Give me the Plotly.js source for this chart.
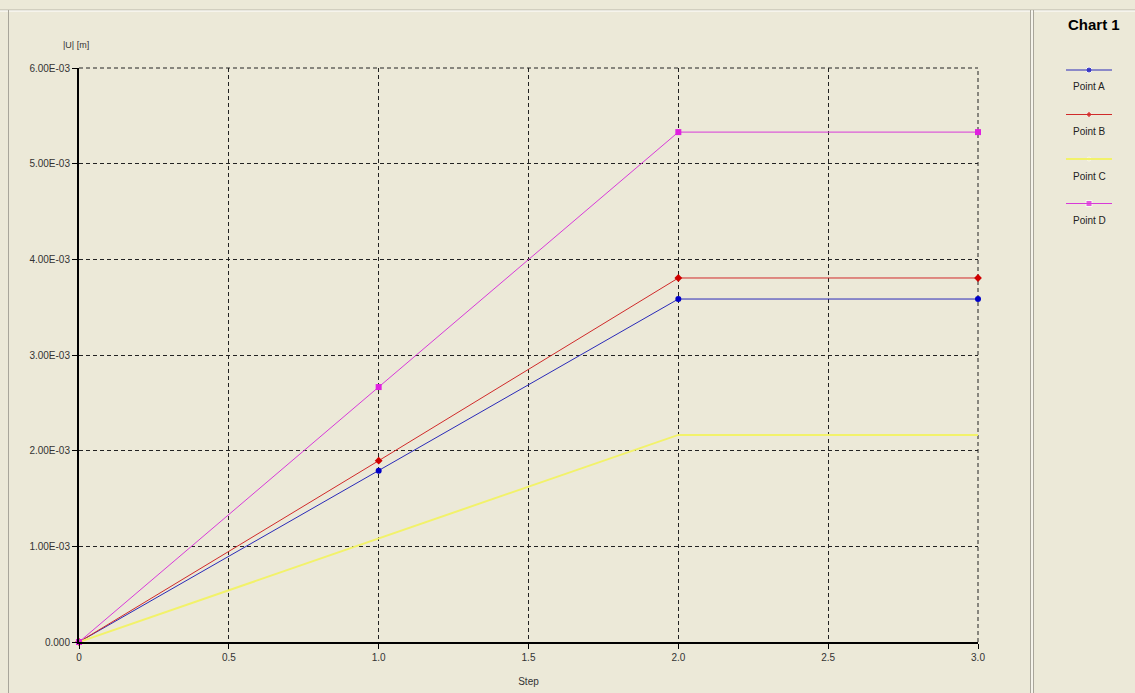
<!DOCTYPE html>
<html><head><meta charset="utf-8">
<script src="https://cdn.plot.ly/plotly-3.0.1.min.js"></script>
<style>html,body{margin:0;padding:0;background:#ECE9D8;}#c{width:1135px;height:693px;}</style>
</head><body><div id="c"></div>
<script>
const steps = [0, 1, 2, 3];
const pointA = [0, 1.79e-3, 3.585e-3, 3.585e-3];
const pointB = [0, 1.895e-3, 3.805e-3, 3.805e-3];
const pointC = [0, 1.08e-3, 2.165e-3, 2.165e-3];
const pointD = [0, 2.665e-3, 5.33e-3, 5.33e-3];
const seriesNames = ['Point A', 'Point B', 'Point C', 'Point D'];
const lineColors = ['#2a2ab8', '#d02a2a', '#f2f26a', '#d83ad8'];
const markerColors = ['#0000c8', '#d00000', '#f2f26a', '#e020e0'];
const markerSymbols = ['circle', 'diamond', 'circle', 'square'];
const lineWidths = [1, 1, 2, 1];
const markerSizes = [6, 6, 0, 6];
const yTickVals = [0, 1e-3, 2e-3, 3e-3, 4e-3, 5e-3, 6e-3];
const yTickText = ['0.000', '1.00E-03', '2.00E-03', '3.00E-03', '4.00E-03', '5.00E-03', '6.00E-03'];
const xTickVals = [0, 0.5, 1, 1.5, 2, 2.5, 3];
const xTickText = ['0', '0.5', '1.0', '1.5', '2.0', '2.5', '3.0'];

const W = 1135, H = 693;
const allY = [pointA, pointB, pointC, pointD];
const font = {family: 'Liberation Sans, Arial, sans-serif', size: 10, color: '#333'};
const gridDash = '4px,3px';

const traces = allY.map((ys, i) => ({
  x: steps, y: ys, type: 'scatter', mode: markerSizes[i] ? 'lines+markers' : 'lines',
  name: seriesNames[i], showlegend: false,
  line: {color: lineColors[i], width: lineWidths[i]},
  marker: {color: markerColors[i], symbol: markerSymbols[i], size: markerSizes[i] || 1},
  cliponaxis: false
}));

// legend samples on a separate axis placed over the legend panel only
const legX0 = 1066, legX1 = 1112, legY0 = 70, legDY = 44.5;
const shapes = [];
const annotations = [];
seriesNames.forEach((n, i) => {
  const yl = legY0 + i * legDY;
  shapes.push({type: 'line', xref: 'paper', yref: 'paper', x0: legX0 / W, x1: legX1 / W,
    y0: 1 - yl / H, y1: 1 - yl / H, line: {color: lineColors[i], width: i === 2 ? 2 : 1}});
  annotations.push({xref: 'paper', yref: 'paper', x: 1089 / W, y: 1 - (yl + 17) / H, text: n,
    showarrow: false, font: {family: font.family, size: 10, color: '#222'}, xanchor: 'center', yanchor: 'middle'});
});
traces.push({
  x: seriesNames.map(() => 1089), y: seriesNames.map((n, i) => legY0 + i * legDY),
  xaxis: 'x2', yaxis: 'y2', type: 'scatter', mode: 'markers', showlegend: false, hoverinfo: 'skip',
  marker: {color: markerColors, symbol: markerSymbols, size: [6, 5, 4, 6]}
});

// edge gridlines (top and right) which plotly omits at range boundaries
shapes.push({type: 'line', xref: 'x domain', yref: 'y domain', x0: 0, x1: 1, y0: 1, y1: 1, line: {color: '#222', width: 1, dash: gridDash}, layer: 'below'});
shapes.push({type: 'line', xref: 'x domain', yref: 'y domain', x0: 1, x1: 1, y0: 0, y1: 1, line: {color: '#222', width: 1, dash: gridDash}, layer: 'below'});

// frame lines
shapes.push({type: 'line', xref: 'paper', yref: 'paper', x0: 0, x1: 1, y0: 1 - 10 / H, y1: 1 - 10 / H, line: {color: '#b8b5a8', width: 1}});
shapes.push({type: 'line', xref: 'paper', yref: 'paper', x0: 0, x1: 1, y0: 1 - 11 / H, y1: 1 - 11 / H, line: {color: '#ffffff', width: 1}});
shapes.push({type: 'line', xref: 'paper', yref: 'paper', x0: 8.5 / W, x1: 8.5 / W, y0: 0, y1: 1 - 10 / H, line: {color: '#a8a59a', width: 1}});
[1030.5, 1033.5].forEach(px => shapes.push({type: 'line', xref: 'paper', yref: 'paper', x0: px / W, x1: px / W, y0: 0, y1: 1 - 10 / H, line: {color: '#a8a59a', width: 1}}));
shapes.push({type: 'line', xref: 'paper', yref: 'paper', x0: 1032 / W, x1: 1032 / W, y0: 0, y1: 1 - 11 / H, line: {color: '#ffffff', width: 1}});

annotations.push({xref: 'paper', yref: 'paper', x: 1094 / W, y: 1 - 24 / H, text: '<b>Chart 1</b>', showarrow: false,
  font: {family: font.family, size: 15, color: '#000'}, xanchor: 'center', yanchor: 'middle'});
annotations.push({xref: 'paper', yref: 'paper', x: 76 / W, y: 1 - 45 / H, text: '|U| [m]', showarrow: false,
  font: {family: font.family, size: 9, color: '#333'}, xanchor: 'center', yanchor: 'middle'});

const layout = {
  width: W, height: H,
  margin: {l: 0, r: 0, t: 0, b: 0},
  paper_bgcolor: '#ECE9D8', plot_bgcolor: 'rgba(0,0,0,0)',
  font: font,
  showlegend: false,
  xaxis: {
    domain: [79 / W, 978 / W], range: [0, 3], tickvals: xTickVals, ticktext: xTickText,
    showgrid: true, gridcolor: '#222', griddash: gridDash, gridwidth: 1,
    zeroline: false, showline: true, linecolor: '#000', linewidth: 2,
    ticks: 'outside', ticklen: 5, tickcolor: '#000', tickfont: font,
    title: {text: 'Step', font: font, standoff: 16}, anchor: 'y', fixedrange: true
  },
  yaxis: {
    domain: [51 / H, 625 / H], range: [0, 6e-3], tickvals: yTickVals, ticktext: yTickText,
    showgrid: true, gridcolor: '#222', griddash: gridDash, gridwidth: 1,
    zeroline: false, showline: true, linecolor: '#000', linewidth: 2,
    ticks: 'outside', ticklen: 5, tickcolor: '#000', tickfont: font, anchor: 'x', fixedrange: true
  },
  xaxis2: {domain: [1040 / W, 1], range: [1040, W], visible: false, anchor: 'y2', fixedrange: true},
  yaxis2: {domain: [0, 1], range: [H, 0], visible: false, anchor: 'x2', fixedrange: true},
  shapes: shapes,
  annotations: annotations
};

Plotly.newPlot('c', traces, layout, {displayModeBar: false, staticPlot: true});
</script></body></html>
